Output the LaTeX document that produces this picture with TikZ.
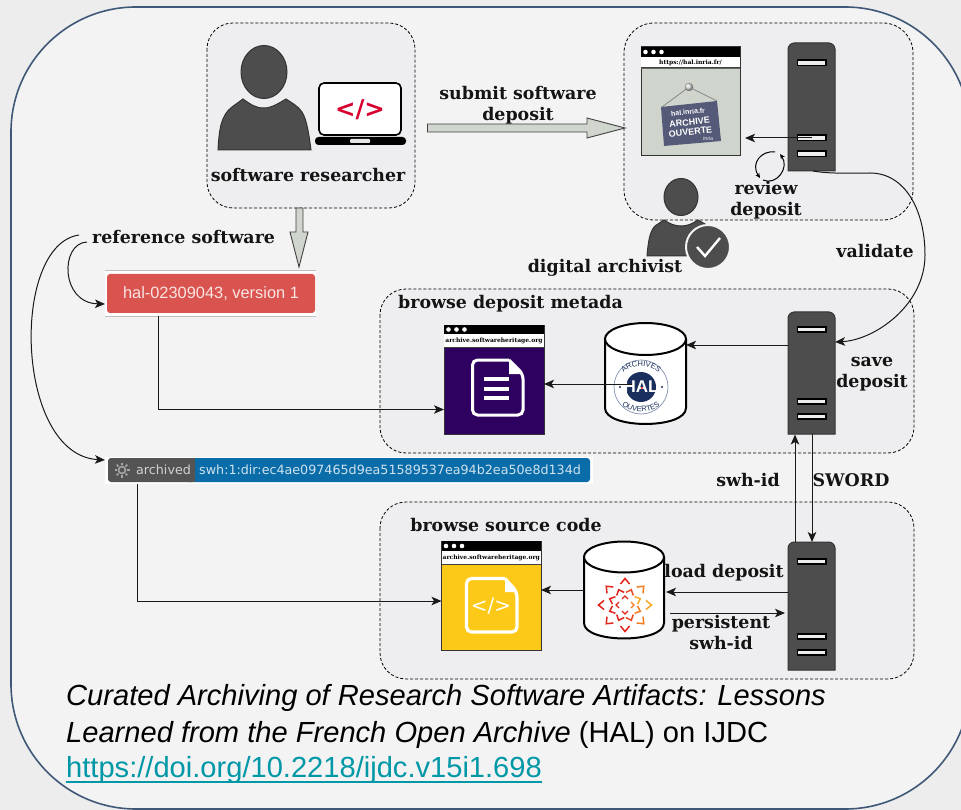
\documentclass[tikz,border=0pt]{standalone}
\usepackage{fontspec}
\setmainfont{DejaVu Serif}
\newfontfamily\arialf{Liberation Sans}
\newfontfamily\dejasans{DejaVu Sans}
\usetikzlibrary{arrows.meta,decorations.text}
\definecolor{pagebg}{HTML}{EDEDED}
\definecolor{innerbg}{HTML}{F3F3F3}
\definecolor{groupbg}{HTML}{EEEEF0}
\definecolor{frame}{HTML}{3F5878}
\definecolor{srvgrey}{HTML}{4D4D4D}
\definecolor{bigarrow}{HTML}{D0D5CD}
\definecolor{halnavy}{HTML}{1B2F5E}
\definecolor{halgrey}{HTML}{CFD5CC}
\definecolor{purp}{HTML}{2E0060}
\definecolor{yell}{HTML}{FDC918}
\definecolor{halred}{HTML}{D9534F}
\definecolor{swhblue}{HTML}{0A6CA8}
\definecolor{teal}{HTML}{0097A7}
\definecolor{swhA}{HTML}{E2231A}
\definecolor{swhB}{HTML}{EC4A1E}
\definecolor{swhC}{HTML}{F47A1F}
\definecolor{swhD}{HTML}{F9A825}
\tikzset{
  x=1pt,y=-1pt,
  group/.style={draw=black,fill=groupbg,line width=.8pt,dash pattern=on 3pt off 2pt,rounded corners=#1},
  lab/.style={font=\fontsize{17.4}{21}\selectfont\bfseries,align=center,text=black!92,inner sep=0pt},
  conn/.style={draw=black!90,line width=1pt,-{Stealth[length=10pt,width=8.5pt,inset=2.5pt]}},
  fat/.style={draw=black!75,fill=bigarrow,line width=.9pt},
  dark/.style={draw=black!80,fill=srvgrey,line width=1pt},
  slot/.style={draw=black,fill=black!7,line width=1.1pt},
  hook/.style={inner sep=0pt,outer sep=0pt},
}
\newcommand\serverbox[5]{%
  \node[hook,minimum width=47pt,minimum height={(#3-#2)*1pt}] (#1) at (811.5,{(#2+#3)/2}) {};
  \draw[dark] (788,#3) -- (788,{#2+6}) .. controls (788,{#2+3}) and (791,#2) .. (794,#2) -- (829,#2)
     .. controls (832,#2) and (835,{#2+3}) .. (835,{#2+6}) -- (835,#3) -- cycle;
  \foreach \s in {#4}{\draw[slot] (797.5,\s) rectangle (826,{\s+#5});}%
}
% name x0 x1 y0 y1 y2 y3 colour url
\newcommand\browserbox[9]{%
  \node[hook,draw=black!80,line width=1pt,fill=#8,minimum width={(#3-#2)*1pt},minimum height={(#7-#4)*1pt}] (#1) at ({(#2+#3)/2},{(#4+#7)/2}) {};
  \fill[black] (#2,#4) rectangle (#3,#5);
  \fill[white] (#2,#5) rectangle (#3,#6);
  \draw[black!75,line width=1pt] (#2,#6) -- (#3,#6);
  \foreach \d in {4.5,12.5,20.5}{\fill[white] ({#2+\d},{(#4+#5)/2}) circle (2.3);}
  \node[font=\fontsize{6}{6}\selectfont\bfseries,text=black,inner sep=0pt] (#1url) at ({(#2+#3)/2},{(#5+#6)/2}) {#9};
}
% name x0 x1 ytopcentre ry ybottom
\newcommand\cylbox[6]{%
  \node[hook,minimum width={(#3-#2)*1pt},minimum height={(#6-#4+2*#5)*1pt}] (#1) at ({(#2+#3)/2},{(#4+#6)/2}) {};
  \draw[black,fill=white,line width=2pt] (#2,#4) -- (#2,#6) .. controls (#2,{#6+1.33*#5}) and (#3,{#6+1.33*#5}) .. (#3,#6) -- (#3,#4);
  \draw[black,fill=white,line width=2pt] ({(#2+#3)/2},#4) ellipse [x radius={(#3-#2)/2},y radius=#5];
}
\begin{document}
\begin{tikzpicture}
\useasboundingbox (0,0) rectangle (961,810);
\begin{scope}
\clip (0,0) rectangle (961,810);
\fill[pagebg] (0,0) rectangle (961,810);
\draw[frame,fill=innerbg,line width=1.6pt,rounded corners=125pt] (11,7) rectangle (970,809);
\end{scope}

% groups
\draw[group=26pt] (207,23) rectangle (415,208);
\draw[group=30pt] (624,23) rectangle (913,220);
\draw[group=26pt] (380,289) rectangle (914,453);
\draw[group=26pt] (380,502) rectangle (914,679);

% researcher
\node[hook,minimum width=93pt,minimum height=104pt] (researcher) at (264.5,98) {};
\draw[dark] (264,72) ellipse [x radius=23,y radius=26.5];
\draw[dark] (218,150) .. controls (219,130) and (221,115) .. (232,107) -- (243,99)
  .. controls (250,104) and (255,108) .. (264,108) .. controls (272,108) and (279,103) .. (286,99)
  .. controls (292,103) and (298,106) .. (302,112) .. controls (307,120) and (309,135) .. (311,150) -- cycle;
\node[hook,draw=black,line width=1.6pt,fill=white,rounded corners=5pt,minimum width=82pt,minimum height=52pt] (screen) at (360,109) {};
\node[font=\dejasans\fontsize{24.5}{26}\selectfont\bfseries,text={rgb,255:red,215;green,0;blue,47},inner sep=0pt] (tag) at (360,110) {</>};
\fill[black,rounded corners=3.5pt] (315,137) rectangle (406,145);
\fill[black!10,rounded corners=1pt] (350,139) rectangle (370,143);
\node[lab] (lresearcher) at (308,175) {software researcher};

% big arrows
\coordinate (subA) at (427.5,128);
\coordinate (subB) at (625,128);
\draw[fat] (subA) ++(0,-4) -- (587,124) -- (587,118) -- (subB) -- (587,138) -- (587,132) -- (427.5,132) -- cycle;
\coordinate (refA) at (299.5,208);
\coordinate (refB) at (299,267);
\draw[fat] (296,208) -- (296,232) -- (290,232) -- (refB) -- (308,232) -- (303,232) -- (303,208) -- cycle;
\node[lab] (lsubmit) at (518,105) {submit software\\[-.5pt]deposit};

% HAL browser
\browserbox{hal}{641}{740}{47}{57}{68}{156}{halgrey}{https://hal.inria.fr/}
\fill[black!60] (641,68) rectangle (740,69.5);
\draw[black!35!halgrey,line width=.8pt] (662,107) -- (689,87) -- (717,101);
\shade[ball color=black!15] (689,87) circle (4.2);
\fill[rounded corners=.5pt,fill={rgb,255:red,85;green,90;blue,120}] (661,107) -- (717,101) -- (721,141) -- (664,146) -- cycle;
\node[rotate=6,font=\arialf\fontsize{7}{8}\selectfont\bfseries,text=white,align=center,inner sep=0pt] (signtop) at (688,112) {hal.inria.fr};
\node[rotate=6,font=\arialf\fontsize{9}{9.5}\selectfont\bfseries,text=white,align=center,inner sep=0pt] (signmain) at (690,127) {ARCHIVE\\OUVERTE};
\node[rotate=6,font=\arialf\fontsize{5}{5}\selectfont\itshape,text=white,inner sep=0pt] (signinria) at (708,138.5) {Inria};

\serverbox{srvA}{43}{171}{60,135,151}{5.5}
\draw[conn] (srvA.center |- 0,138) -- ([xshift=5pt]hal.east |- 0,138);
\draw[black,line width=1pt,-{Stealth[length=5pt,width=4.5pt]}] (775,152) .. controls (762,150) and (750,163) .. (760,178);
\draw[black,line width=1pt,-{Stealth[length=5pt,width=4.5pt]}] (763,180) .. controls (776,186) and (790,168) .. (780,154);
\node[lab] (lreview) at (766,200) {review\\deposit};

% archivist
\node[hook,minimum width=65pt,minimum height=77pt] (archivist) at (680,218) {};
\draw[dark] (681,197) ellipse [x radius=17,y radius=18.5];
\draw[dark] (647,256) .. controls (648,245) and (649,232) .. (655,226) -- (664,220)
  .. controls (670,224) and (675,226) .. (681,226) .. controls (687,226) and (692,224) .. (698,220)
  -- (712,228) -- (712,256) -- cycle;
\node[circle,draw=innerbg,line width=2pt,fill=srvgrey,minimum size=44pt,inner sep=0pt] (badge) at (708,247) {};
\draw[white,line width=2.4pt] (697,247) -- (705,256) -- (720,238);
\node[lab] (larchivist) at (605,268) {digital archivist};
\node[lab] (lvalidate) at (875,251) {validate};

% save deposit
\node[lab] (lmetada) at (510.5,304) {browse deposit metada};
\browserbox{docs}{444}{544}{325}{334}{347}{434}{purp}{archive.softwareheritage.org}
\draw[white,line width=3pt,rounded corners=5pt] (509,360) -- (472.5,360) -- (472.5,415) -- (523,415) -- (523,374) -- (509,360);
\fill[white] (509,360) -- (509,374) -- (523,374) -- cycle;
\foreach \yy in {379,388.5,398}{\draw[white,line width=4pt] (484,\yy) -- (509,\yy);}

\cylbox{cylA}{605}{686}{339}{16}{408}
\node[circle,hook,draw={rgb,255:red,130;green,145;blue,175},fill=white,line width=.7pt,minimum size=54pt] (hallogo) at (641,387) {};
\node[circle,hook,fill=halnavy,minimum size=30pt] (halcore) at (641,387) {};
\path[decorate,decoration={text along path,text align=center,text={|\arialf\fontsize{7.5}{7.5}\selectfont\color{halnavy}|ARCHIVES}}] (619,382) .. controls (623,361) and (659,361) .. (663,382);
\path[decorate,decoration={text along path,text align=center,text={|\arialf\fontsize{7.5}{7.5}\selectfont\color{halnavy}|OUVERTES}}] (617,396) .. controls (622,417) and (660,417) .. (665,396);
\node[font=\arialf\fontsize{17}{17}\selectfont\bfseries,text=white,inner sep=0pt] (halword) at (641,387) {HAL};
\fill[swhA] (642,388) circle (1.2);
\fill[halnavy] (620,387) circle (1.2) (662,387) circle (1.2);

\serverbox{srvB}{312}{434}{327,399,414}{5}
\node[lab] (lsave) at (872,374.5) {save\\deposit};
\draw[conn] (srvB.west |- 0,345) -- (cylA.east |- 0,345);
\draw[conn] (halcore.center |- 0,384) ++(-9,0) -- (docs.east |- 0,384);
\draw[black!90,line width=1pt,-{Stealth[length=10pt,width=8.5pt,inset=2.5pt]}] (813,171) .. controls (830,174) and (850,173) .. (870,173) .. controls (905,173) and (925,210) .. (925,255) .. controls (925,305) and (875,340) .. (srvB.east |- 0,342);

% badges
\node[hook,fill=white,minimum width=211pt,minimum height=46pt] (halbox) at (210.5,293) {};
\draw[black!25,line width=.8pt] (halbox.north west) -- (halbox.north east) (halbox.south west) -- (halbox.south east);
\node[hook,fill=halred,rounded corners=3pt,minimum width=208pt,minimum height=39pt,text=white!85!halred,font=\arialf\fontsize{16.4}{18}\selectfont] (hallabel) at (211,293.5) {hal-02309043, version 1};
\node[lab,anchor=west] (lref) at (92,237) {reference software};
\coordinate (refOuter) at (79,235);
\coordinate (refInner) at (87,242);
\draw[conn] (refInner) .. controls (60,243) and (60,303) .. (halbox.west |- 0,304);
\node[hook,fill=white,minimum width=488pt,minimum height=27pt] (swhbox) at (349,470.5) {};
\fill[swhblue,rounded corners=3pt] (185,458) rectangle (590,482);
\fill[black!67,rounded corners=3pt] (108,458) rectangle (195,482);
\fill[black!67] (190,458) rectangle (195,482);
\node[anchor=west,inner sep=0pt,text=black!18,font=\dejasans\fontsize{12.7}{14}\selectfont] (arch) at (136,470) {archived};
\node[anchor=west,inner sep=0pt,text=white!80!swhblue,font=\dejasans\fontsize{12.7}{14}\selectfont] (swhid) at (199,470) {swh:1:dir:ec4ae097465d9ea51589537ea94b2ea50e8d134d};
\node[circle,hook,draw=black!35,line width=1.6pt,minimum size=7pt] (gear) at (122,470) {};
\foreach \g in {0,45,...,315}{\draw[black!35,line width=1.6pt,shift={(gear.center)},rotate=\g] (5,0) -- (7.5,0);}
\draw[conn] (refOuter) .. controls (10,245) and (15,455) .. (swhbox.west |- 0,460);
\draw[conn] (halbox.south -| 158,0) -- (158,409.5) -- (docs.west |- 0,409.5);

% source code
\node[lab] (lbrowse) at (506,525) {browse source code};
\browserbox{code}{441.5}{541}{541}{551}{564}{650}{yell}{archive.softwareheritage.org}
\draw[white,line width=3.2pt,rounded corners=5pt] (505,578.5) -- (466.5,578.5) -- (466.5,632) -- (517,632) -- (517,592) -- (505,578.5);
\fill[white] (505,578.5) -- (505,592) -- (517,592) -- cycle;
\node[font=\dejasans\fontsize{20}{20}\selectfont,text=white,inner sep=0pt] (codetag) at (491,606) {</>};

\cylbox{cylB}{584}{664}{557}{15.5}{623}
\node[hook,minimum size=54pt] (swhlogo) at (625,605) {};
\foreach \a/\c in {0/swhD,45/swhC,90/swhA,135/swhA,180/swhA,225/swhA,270/swhA,315/swhC}{
  \draw[\c,line width=1.5pt,shift={(swhlogo.center)},rotate=\a] (21,4.5) -- (26.5,0) -- (21,-4.5);}
\foreach \a/\c in {22.5/swhD,67.5/swhB,112.5/swhA,157.5/swhA,202.5/swhA,247.5/swhA,292.5/swhB,337.5/swhC}{
  \draw[\c,line width=1.5pt,shift={(swhlogo.center)},rotate=\a] (12,4) -- (16.5,0) -- (12,-4);}
\foreach \a/\c in {0/swhC,90/swhA,180/swhA,270/swhA}{
  \draw[\c,line width=1.3pt,shift={(swhlogo.center)},rotate=\a] (6,3) -- (9,0) -- (6,-3);}

\serverbox{srvC}{542}{670}{559,634,650}{5}
\draw[conn] (cylB.west |- 0,590) -- (code.east |- 0,590);
\draw[conn] (srvC.west |- 0,592) -- (666,592);
\coordinate (persA) at (670,613);
\draw[conn] (persA) -- (785,613);
\node[lab] (lload) at (724,573) {load deposit};
\node[lab] (lpers) at (721,633) {persistent\\swh-id};

\draw[conn] (795,542) -- (795,434.5);
\draw[conn] (812,434) -- (812,542);
\node[lab] (lswh) at (748,480) {swh-id};
\node[lab] (lsword) at (851,480) {SWORD};
\draw[conn] (swhbox.south -| 137,0) -- (137,601) -- (code.west |- 0,601);

% caption
\node[anchor=base west,inner sep=0pt,font=\arialf\fontsize{29.1}{29}\selectfont\itshape,text=black] (capA) at (66,705) {Curated Archiving of Research Software Artifacts: Lessons};
\node[anchor=base west,inner sep=0pt,font=\arialf\fontsize{29.1}{29}\selectfont,text=black] (capB) at (66,742) {\itshape Learned from the French Open Archive\upshape\ (HAL) on IJDC};
\node[anchor=base west,inner sep=0pt,font=\arialf\fontsize{29.1}{29}\selectfont,text=teal] (capC) at (66,777) {https://doi.org/10.2218/ijdc.v15i1.698};
\draw[teal,line width=2pt] (capC.base west) ++(0,5) -- ([yshift=-5pt]capC.base east);
\end{tikzpicture}
\end{document}
